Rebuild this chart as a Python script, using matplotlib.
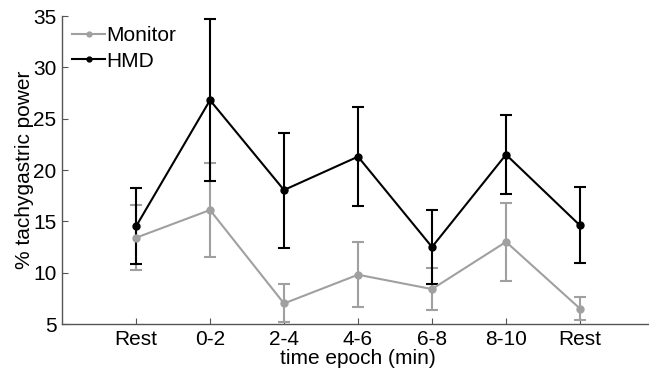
import numpy as np
import matplotlib.pyplot as plt
from matplotlib.lines import Line2D

plt.rcParams['font.family'] = ['Liberation Sans', 'DejaVu Sans']

epochs = ['Rest', '0-2', '2-4', '4-6', '6-8', '8-10', 'Rest']
monitor_mean = [13.4, 16.1, 7.0, 9.8, 8.4, 13.0, 6.5]
monitor_err = [3.15, 4.6, 1.85, 3.15, 2.05, 3.8, 1.15]
hmd_mean = [14.5, 26.8, 18.05, 21.3, 12.5, 21.5, 14.6]
hmd_err = [3.7, 7.9, 5.6, 4.85, 3.6, 3.85, 3.7]

grey = '#a0a0a0'
x = np.arange(1, len(epochs) + 1)

fig = plt.figure(figsize=(6.49, 3.73), dpi=100)
ax = fig.add_axes([62 / 649, 49 / 373, 592 / 649, 308 / 373])

ax.errorbar(x, monitor_mean, yerr=monitor_err, color=grey, marker='o',
            markersize=5, linewidth=1.5, elinewidth=1.5, capsize=4, capthick=1.5)
ax.errorbar(x, hmd_mean, yerr=hmd_err, color='black', marker='o',
            markersize=5, linewidth=1.5, elinewidth=1.5, capsize=4, capthick=1.5)

ax.set_xlim(0, 8)
ax.set_ylim(5, 35)
ax.set_xticks(x)
ax.set_xticklabels(epochs)
ax.set_yticks([5, 10, 15, 20, 25, 30, 35])
ax.tick_params(direction='in', length=4, labelsize=15, color='#555555', pad=4)
ax.spines['top'].set_visible(False)
ax.spines['right'].set_visible(False)
for s in ['left', 'bottom']:
    ax.spines[s].set_color('#555555')
    ax.spines[s].set_linewidth(1)

ax.set_xlabel('time epoch (min)', fontsize=15, labelpad=0)
ax.set_ylabel('% tachygastric power', fontsize=15, labelpad=-1)

handles = [Line2D([], [], color=grey, marker='o', markersize=3.5, linewidth=1.5),
           Line2D([], [], color='black', marker='o', markersize=3.5, linewidth=1.5)]
ax.legend(handles, ['Monitor', 'HMD'], loc='upper left', frameon=False, fontsize=15,
          handlelength=1.55, handletextpad=0.08, borderpad=0.2, borderaxespad=0.3,
          labelspacing=0.3)

fig.savefig('out.png', dpi=100)
